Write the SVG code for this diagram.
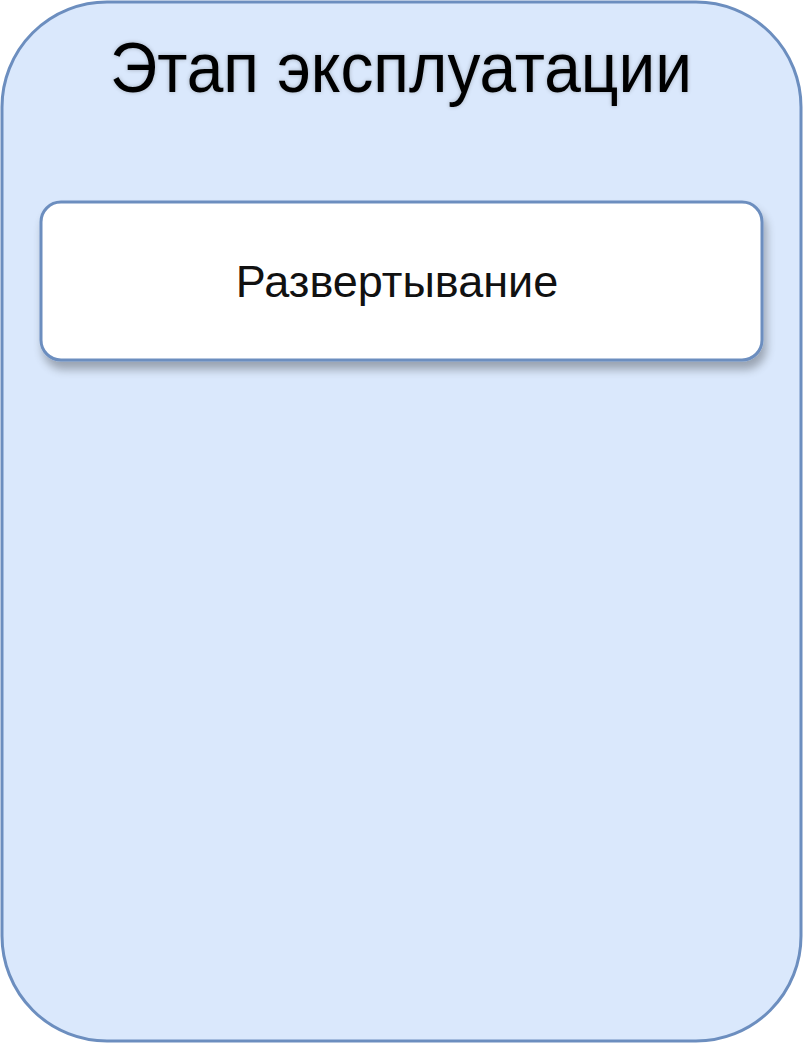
<svg xmlns="http://www.w3.org/2000/svg" width="804" height="1044" viewBox="0 0 804 1044">
<defs>
<style>
.container{fill:#dae8fc;stroke:#6c8ebf;stroke-width:3}
.box{fill:#ffffff;stroke:#6c8ebf;stroke-width:3}
.title{font-family:"Liberation Sans",Arial,sans-serif;font-size:70px;fill:#000;text-anchor:middle}
.label{font-family:"Liberation Sans",Arial,sans-serif;font-size:45px;fill:#111;text-anchor:middle}
</style>
<filter id="shadow" x="-10%" y="-20%" width="125%" height="160%">
<feGaussianBlur in="SourceAlpha" stdDeviation="5"/>
<feOffset dx="3" dy="8" result="b"/>
<feComponentTransfer><feFuncA type="linear" slope="0.3"/></feComponentTransfer>
<feMerge><feMergeNode/><feMergeNode in="SourceGraphic"/></feMerge>
</filter>
<filter id="glow" x="-5%" y="-20%" width="110%" height="140%">
<feGaussianBlur in="SourceAlpha" stdDeviation="2"/>
<feComponentTransfer><feFuncA type="linear" slope="0.25"/></feComponentTransfer>
<feMerge><feMergeNode/><feMergeNode in="SourceGraphic"/></feMerge>
</filter>
</defs>
<g id="container">
<rect class="container" x="2" y="2" width="799" height="1039" rx="105" ry="105"/>
<text class="title" x="401" y="92" textLength="582" lengthAdjust="spacingAndGlyphs" filter="url(#glow)">Этап эксплуатации</text>
</g>
<g id="node-deploy">
<rect class="box" x="41" y="202" width="721" height="158" rx="20" ry="20" filter="url(#shadow)"/>
<text class="label" x="397" y="297">Развертывание</text>
</g>
<g id="connectors"/>
</svg>
